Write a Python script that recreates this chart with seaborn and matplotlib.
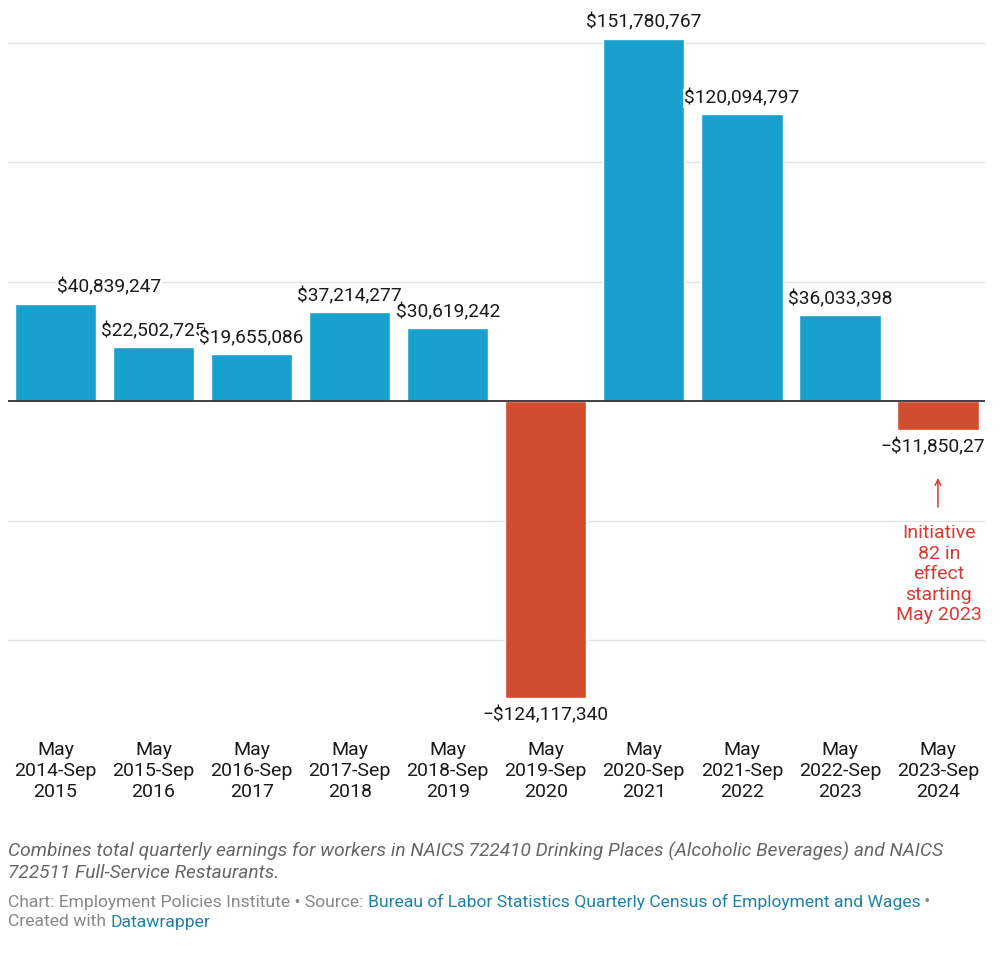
import pandas as pd
import seaborn as sns
import matplotlib.pyplot as plt

# Data
periods = ["May\n2014-Sep\n2015", "May\n2015-Sep\n2016", "May\n2016-Sep\n2017",
           "May\n2017-Sep\n2018", "May\n2018-Sep\n2019", "May\n2019-Sep\n2020",
           "May\n2020-Sep\n2021", "May\n2021-Sep\n2022", "May\n2022-Sep\n2023",
           "May\n2023-Sep\n2024"]
earnings_change = [40839247, 22502725, 19655086, 37214277, 30619242,
                   -124117340, 151780767, 120094797, 36033398, -11850270]

BLUE = "#18a1cd"
RED = "#d24d30"
NOTE_RED = "#d93a32"

sns.set_style("white")
plt.rcParams['font.family'] = ['Roboto', 'DejaVu Sans']

df = pd.DataFrame({"period": periods, "change": earnings_change})
colors = [BLUE if v >= 0 else RED for v in earnings_change]

fig = plt.figure(figsize=(10, 9.57), dpi=100)
ax = fig.add_axes([0.008, 1 - 705 / 957, 0.977, 705 / 957])

sns.barplot(data=df, x="period", y="change", hue="period", palette=colors,
            legend=False, width=0.83, saturation=1, ax=ax)

ax.set_xlim(-0.485, 9.48)
ax.set_ylim(-127.2e6, 168e6)
ax.set_yticks([-100e6, -50e6, 0, 50e6, 100e6, 150e6])
ax.yaxis.grid(True, color="#e3e3e3", lw=1)
ax.set_axisbelow(True)
ax.axhline(0, color="#333333", lw=1.3, zorder=3)
for s in ax.spines.values():
    s.set_visible(False)
ax.set_yticklabels([])
ax.tick_params(axis="y", length=0)
ax.tick_params(axis="x", length=0, pad=26, labelsize=14, labelcolor="#1a1a1a")
ax.set_xlabel("")
ax.set_ylabel("")

# value labels (white background so they overlap like the original)
for i, v in enumerate(earnings_change):
    box = dict(facecolor="white", edgecolor="none", pad=0.5)
    clip = i == len(earnings_change) - 1
    if v >= 0:
        lab = "${:,}".format(v)
        ha = "left" if i == 0 else "center"
        dx = 1 if i == 0 else 0
        ax.annotate(lab, (i, v), xytext=(dx, 5), textcoords="offset points",
                    ha=ha, va="bottom", fontsize=13.8, color="#1a1a1a", bbox=box,
                    clip_on=clip)
    else:
        lab = "\u2212${:,}".format(-v)
        ax.annotate(lab, (i, v), xytext=(0, -6), textcoords="offset points",
                    ha="center", va="top", fontsize=13.8, color="#1a1a1a", bbox=box,
                    clip_on=clip)

# Initiative 82 note
ax.annotate("", xy=(9, -31e6), xytext=(9, -45.5e6),
            arrowprops=dict(arrowstyle="->", color=NOTE_RED, lw=1.1))
ax.text(9.01, -72.5e6, "Initiative\n82 in\neffect\nstarting\nMay 2023", ha="center",
        va="center", fontsize=14, color=NOTE_RED, linespacing=1.18)

# footer
notes = ["Combines total quarterly earnings for workers in NAICS 722410 Drinking Places "
         "(Alcoholic Beverages) and NAICS",
         "722511 Full-Service Restaurants."]
for k, line in enumerate(notes):
    fig.text(0.008, 1 - (851 + 22 * k) / 957, line, ha="left", va="center",
             fontsize=13.8, style="italic", color="#666666")

fig.canvas.draw()
renderer = fig.canvas.get_renderer()
credit_lines = [
    (902, [("Chart: Employment Policies Institute \u2022 Source: ", "#888888"),
           ("Bureau of Labor Statistics Quarterly Census of Employment and Wages", "#1d81a8"),
           (" \u2022", "#888888")]),
    (922, [("Created with ", "#888888"), ("Datawrapper", "#1d81a8")]),
]
for ypix, parts in credit_lines:
    x = 8
    for txt, col in parts:
        t = fig.text(x / 1000, 1 - ypix / 957, txt, ha="left", va="center",
                     fontsize=12.6, color=col)
        x = t.get_window_extent(renderer).x1

fig.savefig("out.png", dpi=100, facecolor="white")
